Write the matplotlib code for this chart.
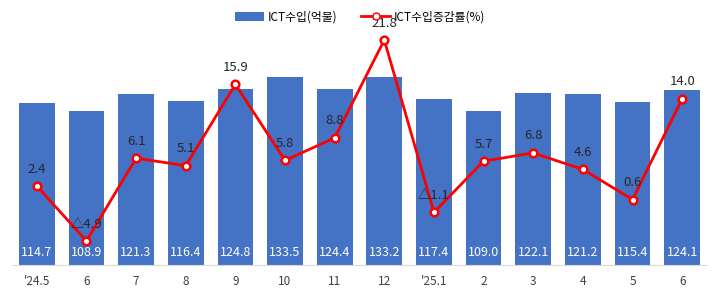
import matplotlib.pyplot as plt
from matplotlib.lines import Line2D
from matplotlib.patches import Patch

plt.rcParams['font.family'] = ['Noto Sans CJK KR', 'DejaVu Sans']

# Data
months = ["'24.5", '6', '7', '8', '9', '10', '11', '12', "'25.1", '2', '3', '4', '5', '6']
imports = [114.7, 108.9, 121.3, 116.4, 124.8, 133.5, 124.4, 133.2, 117.4, 109.0, 122.1, 121.2, 115.4, 124.1]
growth = [2.4, -4.9, 6.1, 5.1, 15.9, 5.8, 8.8, 21.8, -1.1, 5.7, 6.8, 4.6, 0.6, 14.0]

fig = plt.figure(figsize=(7.2, 2.96), dpi=100)
ax = fig.add_axes([12 / 720, 31 / 296, 695 / 720, 240 / 296])
x = list(range(len(months)))

ax.bar(x, imports, width=0.72, color='#4472C4', zorder=1)
for xi, v in zip(x, imports):
    ax.text(xi, 4.5, f'{v:.1f}', color='white', ha='center', va='bottom', fontsize=9)

ax.set_xlim(-0.5, len(months) - 0.5)
ax.set_ylim(0, 170)
ax.set_yticks([])
ax.set_xticks(x)
ax.set_xticklabels(months, fontsize=8.5, color='#404040')
ax.tick_params(axis='x', length=0, pad=7)
for s in ['top', 'left', 'right']:
    ax.spines[s].set_visible(False)
ax.spines['bottom'].set_color('#D9D9D9')

ax2 = ax.twinx()
ax2.plot(x, growth, color='#FF0000', lw=2, marker='o', ms=5.5,
         markerfacecolor='white', markeredgecolor='#FF0000', markeredgewidth=1.8, zorder=3)
ax2.set_ylim(-8.1, 23.8)
ax2.set_yticks([])
for s in ['top', 'left', 'right', 'bottom']:
    ax2.spines[s].set_visible(False)
for xi, v in zip(x, growth):
    label = f'{v:.1f}' if v >= 0 else f'△{abs(v):.1f}'
    ax2.annotate(label, (xi, v), xytext=(0, 7.5), textcoords='offset points',
                 ha='center', va='bottom', fontsize=9.5, color='#262626')

handles = [Patch(facecolor='#4472C4', label='ICT수입(억불)'),
           Line2D([0], [0], color='#FF0000', lw=2, marker='o', ms=5,
                  markerfacecolor='white', markeredgecolor='#FF0000', label='ICT수입증감률(%)')]
fig.legend(handles=handles, loc='upper center', bbox_to_anchor=(0.5, 1.0), ncol=2,
           frameon=False, fontsize=8.5, handlelength=2.5, columnspacing=2.0, handletextpad=0.3)

fig.savefig('out.png', dpi=100)
